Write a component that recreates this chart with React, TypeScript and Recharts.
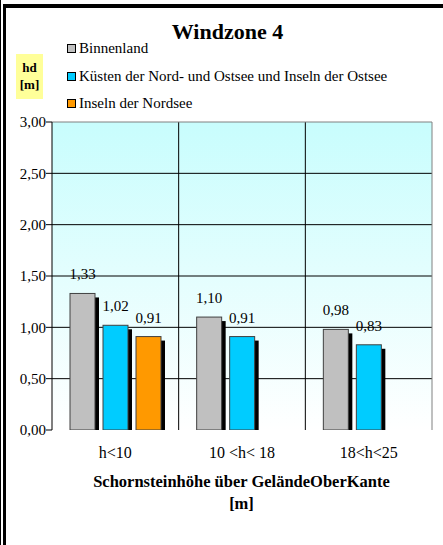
import React from 'react';
import { BarChart, Bar, XAxis, YAxis, CartesianGrid, LabelList } from 'recharts';

const categories = ['h<10', '10 <h< 18', '18<h<25'];
const binnenland = [1.33, 1.10, 0.98];
const kuesten = [1.02, 0.91, 0.83];
const nordsee: (number | null)[] = [0.91, null, null];
const yTicks = [0, 0.5, 1, 1.5, 2, 2.5, 3];
const boundaryTicks = [0, 1, 2, 3];

const seriesNames = [
  'Binnenland',
  'Küsten der Nord- und Ostsee und Inseln der Ostsee',
  'Inseln der Nordsee',
];
const seriesColors = ['#c0c0c0', '#00ccff', '#ff9900'];

const data = categories.map((c, i) => ({
  cat: c,
  b: binnenland[i],
  k: kuesten[i],
  n: nordsee[i],
}));

const FONT = '"Liberation Serif", "Times New Roman", serif';

const fmt = (v: any) => (v === null || v === undefined || v === '' ? '' : Number(v).toFixed(2).replace('.', ','));

const ShadowBar = (props: any) => {
  const { x, y, width, height, fill, value } = props;
  if (value === null || value === undefined || !height || height <= 0) return null;
  return (
    <g>
      <rect x={x + 4} y={y + 4} width={width} height={Math.max(0, height - 4)} fill="#000" />
      <rect x={x} y={y} width={width} height={height} fill={fill} stroke="#404040" strokeWidth={1} />
    </g>
  );
};

const LegendBox = () => (
  <div style={{ position: 'absolute', left: 67, top: 35, fontFamily: FONT, fontSize: 15, color: '#000' }}>
    {seriesNames.map((n, i) => (
      <div key={n} style={{ display: 'flex', alignItems: 'center', height: 27.5 }}>
        <span
          style={{
            display: 'inline-block',
            width: 7,
            height: 7,
            background: seriesColors[i],
            border: '1.5px solid #000',
            marginRight: 3,
          }}
        />
        <span>{n}</span>
      </div>
    ))}
  </div>
);

export default function App() {
  return (
    <div style={{ position: 'absolute', left: 0, top: 0, width: 443, height: 545, background: '#fff', overflow: 'hidden' }}>
      <div style={{ position: 'absolute', left: 0, top: 0, width: 1, height: 545, background: '#000' }} />
      <div style={{ position: 'absolute', left: 3, top: 4, width: 3, height: 541, background: '#000' }} />
      <div style={{ position: 'absolute', left: 3, top: 4, width: 440, height: 4, background: '#000' }} />

      <div
        style={{
          position: 'absolute',
          left: 0,
          width: 443,
          top: 19,
          textAlign: 'center',
          paddingLeft: 12,
          boxSizing: 'border-box',
          fontFamily: FONT,
          fontWeight: 'bold',
          fontSize: 22,
          lineHeight: '26px',
        }}
      >
        Windzone 4
      </div>

      <div
        style={{
          position: 'absolute',
          left: 16,
          top: 54,
          width: 27,
          height: 45,
          background: '#ffff99',
          fontFamily: FONT,
          fontWeight: 'bold',
          fontSize: 13,
          lineHeight: '17px',
          textAlign: 'center',
          paddingTop: 5,
          boxSizing: 'border-box',
        }}
      >
        hd
        <br />
        [m]
      </div>

      <LegendBox />

      <div style={{ position: 'absolute', left: 0, top: 0 }}>
        <BarChart
          width={443}
          height={545}
          data={data}
          margin={{ top: 122, right: 11, left: 0, bottom: 85 }}
          barSize={25}
          barGap={8}
          style={{ fontFamily: FONT }}
        >
          <defs>
            <linearGradient id="bgGrad" x1="0" y1="0" x2="0" y2="1">
              <stop offset="0%" stopColor="#c8fdfd" />
              <stop offset="100%" stopColor="#ffffff" />
            </linearGradient>
          </defs>
          <CartesianGrid
            fill="url(#bgGrad)"
            fillOpacity={1}
            stroke="#000"
            strokeWidth={1}
            horizontalCoordinatesGenerator={(p: any) =>
              [0.5, 1, 1.5, 2, 2.5].map((v) => p.offset.top + p.offset.height * (1 - v / 3))
            }
            verticalCoordinatesGenerator={(p: any) => [1, 2].map((i) => p.offset.left + (p.offset.width * i) / 3)}
          />
          <CartesianGrid
            stroke="#808080"
            strokeWidth={1}
            horizontalCoordinatesGenerator={(p: any) => [p.offset.top]}
            verticalCoordinatesGenerator={(p: any) => [p.offset.left + p.offset.width]}
          />
          <XAxis
            xAxisId="bnd"
            type="number"
            domain={[0, 3]}
            ticks={boundaryTicks}
            height={0}
            tick={false}
            tickSize={5}
            tickLine={{ stroke: '#000' }}
            axisLine={{ stroke: '#000' }}
            allowDataOverflow
          />
          <XAxis
            dataKey="cat"
            height={30}
            tickLine={false}
            axisLine={false}
            tickSize={0}
            tickMargin={17}
            tick={{ fill: '#000', fontSize: 16, fontFamily: FONT }}
            interval={0}
          />
          <YAxis
            width={52}
            domain={[0, 3]}
            ticks={yTicks}
            tickFormatter={fmt}
            tickSize={6}
            tickMargin={0}
            tick={{ fill: '#000', fontSize: 15, fontFamily: FONT }}
            tickLine={{ stroke: '#000' }}
            axisLine={{ stroke: '#000' }}
            allowDataOverflow
          />
          <Bar dataKey="b" name={seriesNames[0]} fill={seriesColors[0]} shape={ShadowBar} isAnimationActive={false}>
            <LabelList dataKey="b" position="top" offset={14} formatter={fmt} style={{ fill: '#000', fontSize: 15, fontFamily: FONT }} />
          </Bar>
          <Bar dataKey="k" name={seriesNames[1]} fill={seriesColors[1]} shape={ShadowBar} isAnimationActive={false}>
            <LabelList dataKey="k" position="top" offset={14} formatter={fmt} style={{ fill: '#000', fontSize: 15, fontFamily: FONT }} />
          </Bar>
          <Bar dataKey="n" name={seriesNames[2]} fill={seriesColors[2]} shape={ShadowBar} isAnimationActive={false}>
            <LabelList dataKey="n" position="top" offset={14} formatter={fmt} style={{ fill: '#000', fontSize: 15, fontFamily: FONT }} />
          </Bar>
        </BarChart>
      </div>

      <div
        style={{
          position: 'absolute',
          left: 40,
          width: 403,
          top: 471,
          textAlign: 'center',
          fontFamily: FONT,
          fontWeight: 'bold',
          fontSize: 16.5,
          lineHeight: '22px',
        }}
      >
        Schornsteinhöhe über GeländeOberKante
        <br />
        [m]
      </div>
    </div>
  );
}
